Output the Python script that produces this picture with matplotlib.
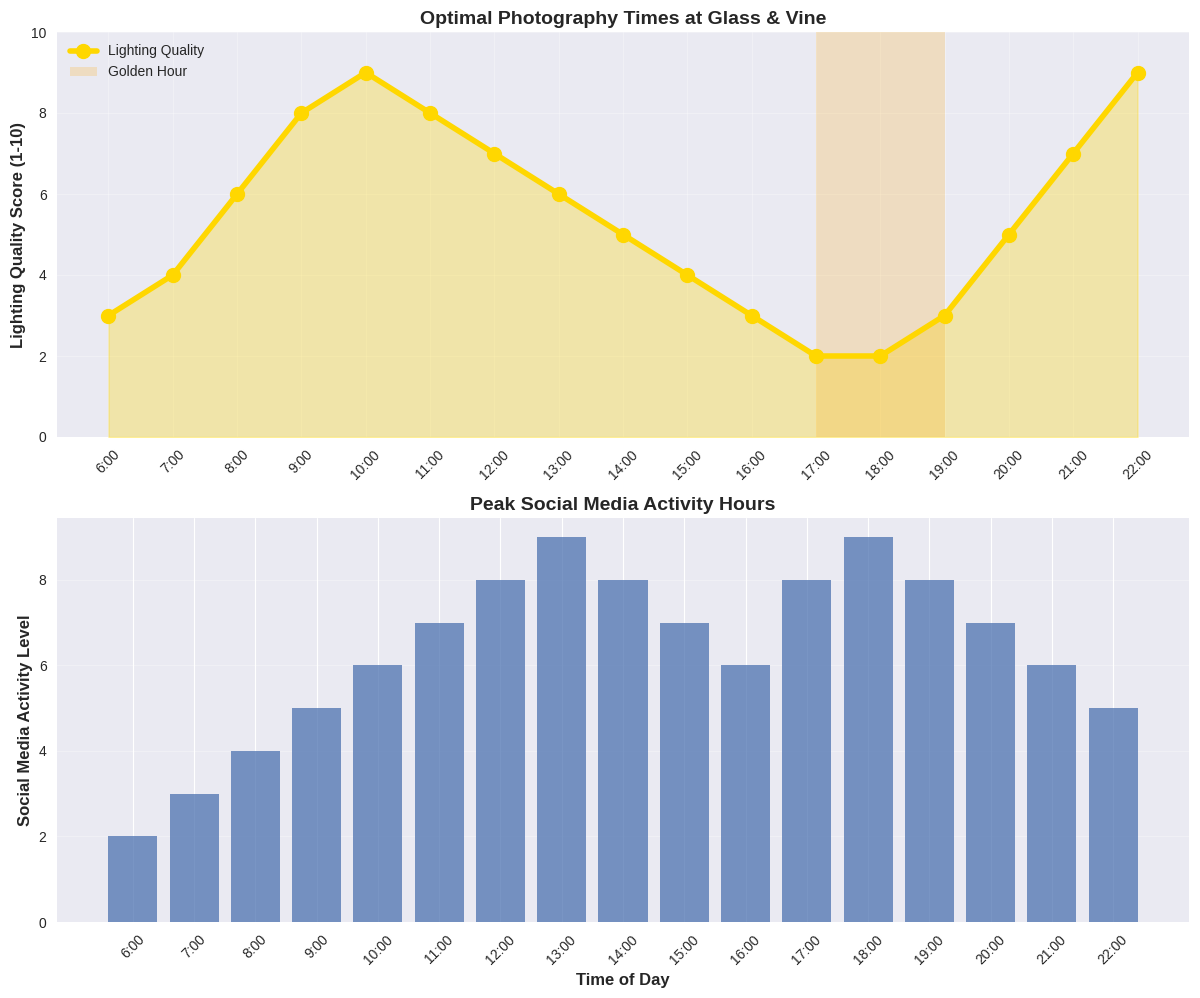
import matplotlib
matplotlib.use("Agg")
import matplotlib.pyplot as plt
import numpy as np

plt.style.use("seaborn-v0_8-darkgrid")
plt.rcParams['font.family'] = ['Liberation Sans', 'DejaVu Sans']

hours = ["6:00", "7:00", "8:00", "9:00", "10:00", "11:00", "12:00", "13:00", "14:00",
         "15:00", "16:00", "17:00", "18:00", "19:00", "20:00", "21:00", "22:00"]
lighting_quality = [3, 4, 6, 8, 9, 8, 7, 6, 5, 4, 3, 2, 2, 3, 5, 7, 9]
social_activity = [2, 3, 4, 5, 6, 7, 8, 9, 8, 7, 6, 8, 9, 8, 7, 6, 5]
golden_start, golden_end = "17:00", "19:00"

x = np.arange(len(hours))

W, H = 1200, 998
fig = plt.figure(figsize=(W / 100, H / 100), dpi=100)
ax1 = fig.add_axes([57 / W, 1 - 437 / H, (1189 - 57) / W, (437 - 32) / H])
ax2 = fig.add_axes([57 / W, 1 - 922 / H, (1189 - 57) / W, (922 - 518) / H])

ax1.plot(x, lighting_quality, color='#FFD700', linewidth=4, marker='o', markersize=10,
         label='Lighting Quality')
ax1.fill_between(x, lighting_quality, color='#FFD700', alpha=0.3)
ax1.axvspan(hours.index(golden_start), hours.index(golden_end), color='#FFA500', alpha=0.2,
            linewidth=0, label='Golden Hour')
ax1.set_ylim(0, 10)
ax1.set_xticks(x)
ax1.set_xticklabels(hours, rotation=45)
ax1.set_ylabel('Lighting Quality Score (1-10)', fontsize=12, fontweight='bold')
ax1.set_title('Optimal Photography Times at Glass & Vine', fontsize=14, fontweight='bold')
ax1.legend(loc='upper left')
ax1.grid(True, alpha=0.3)

ax2.bar(x, social_activity, color='#4C72B0', alpha=0.75)
ax2.set_xticks(x)
ax2.set_xticklabels(hours, rotation=45)
ax2.set_xlabel('Time of Day', fontsize=12, fontweight='bold')
ax2.set_ylabel('Social Media Activity Level', fontsize=12, fontweight='bold')
ax2.set_title('Peak Social Media Activity Hours', fontsize=14, fontweight='bold')
ax2.grid(True, axis='y', alpha=0.3)

for ax in (ax1, ax2):
    ax.tick_params(axis='both', pad=7.5)

fig.savefig('out.png', dpi=100)
